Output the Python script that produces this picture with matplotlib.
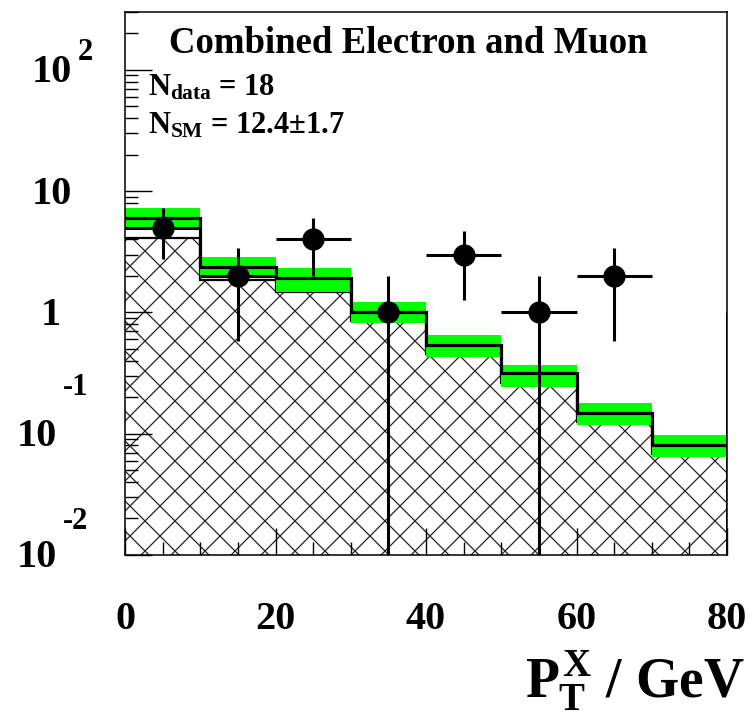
import numpy as np
import matplotlib
matplotlib.use("Agg")
import matplotlib.pyplot as plt
from matplotlib.collections import LineCollection
from matplotlib.ticker import LogLocator, MultipleLocator, NullFormatter

plt.rcParams['font.family'] = ['Liberation Serif', 'DejaVu Serif']
plt.rcParams['font.weight'] = 'bold'
plt.rcParams['mathtext.fontset'] = 'custom'
plt.rcParams['mathtext.rm'] = 'Liberation Serif:bold'
plt.rcParams['mathtext.it'] = 'Liberation Serif:bold'
plt.rcParams['mathtext.bf'] = 'Liberation Serif:bold'

# bins in P_T^X (GeV)
edges = [0, 10, 20, 30, 40, 50, 60, 70, 80]
# SM expectation, its error band and the hatched component
sm_val = [6.0, 2.37, 1.92, 1.01, 0.54, 0.316, 0.148, 0.081]
sm_hi = [7.26, 2.86, 2.32, 1.22, 0.65, 0.368, 0.179, 0.098]
sm_lo = [4.78, 1.92, 1.47, 0.82, 0.43, 0.243, 0.118, 0.064]
w_val = [4.1, 1.85, 1.47, 0.85, 0.45, 0.26, 0.125, 0.068]
# observed events per bin
data_n = [5, 2, 4, 1, 3, 1, 2, 0]

edges = np.array(edges, dtype=float)
centers = 0.5 * (edges[:-1] + edges[1:])
data_n = np.array(data_n, dtype=float)
has = data_n > 0

fig = plt.figure(figsize=(7.5, 7.26), dpi=100)
ax = fig.add_axes([0.16667, 0.23554, 0.80267, 0.74793])
ax.set_yscale('log')
ax.set_xlim(0, 80)
ax.set_ylim(0.01, 300)

# hatched component: white fill + coarse cross hatch clipped to it
wpatch = ax.stairs(w_val, edges, baseline=1e-4, fill=True, facecolor='white',
                   edgecolor='none', zorder=1)
step = 0.30
offs = np.arange(-10, 10, step)
segs = [[(o, -1), (o + 10, 9)] for o in offs] + [[(o, 9), (o + 10, -1)] for o in offs]
lc = LineCollection(segs, colors='#222222', linewidths=0.9,
                    transform=fig.dpi_scale_trans, zorder=1.2)
ax.add_collection(lc, autolim=False)
lc.set_clip_path(wpatch)
ax.stairs(w_val, edges, baseline=None, color='k', lw=1.6, zorder=1.5)

# SM error band and central value
ax.stairs(sm_hi, edges, baseline=sm_lo, fill=True, color='#00ff00', lw=0, zorder=2)
ax.stairs(sm_val, edges, baseline=None, color='k', lw=2.3, zorder=3)
ax.vlines(edges[-1], 0.01, 1, color='k', lw=2.0, zorder=3)

# data points
ax.errorbar(centers[has], data_n[has], xerr=5, yerr=np.sqrt(data_n[has]),
            fmt='o', color='k', ms=15, elinewidth=2.2, capsize=0, zorder=4)

# axes styling (ROOT like)
for s in ax.spines.values():
    s.set_linewidth(1.1)
ax.xaxis.set_major_locator(MultipleLocator(20))
ax.xaxis.set_minor_locator(MultipleLocator(5))
ax.yaxis.set_major_locator(LogLocator(base=10, numticks=10))
ax.yaxis.set_minor_locator(LogLocator(base=10, subs=np.arange(2, 10), numticks=20))
ax.yaxis.set_major_formatter(NullFormatter())
ax.yaxis.set_minor_formatter(NullFormatter())
ax.tick_params(which='both', direction='in', top=False, right=False, width=1.0)
ax.tick_params(which='major', length=19.4)
ax.tick_params(which='minor', length=9.4)
ax.tick_params(axis='x', which='major', labelsize=29, pad=33)

# y tick labels in ROOT style (10 with raised exponent)
ylabs = [(100, '10', '2', -53, 17), (10, '10', '', -53, 0), (1, '1', '', -64, 0),
         (0.1, '10', '-1', -68, 46), (0.01, '10', '-2', -68, 33)]
for v, base, ex, xr, lift in ylabs:
    ax.annotate(base, xy=(0, v), xycoords=('axes fraction', 'data'),
                xytext=(xr, -3), textcoords='offset pixels',
                ha='right', va='center', fontsize=29, fontweight='bold',
                annotation_clip=False)
    if ex:
        ax.annotate(ex, xy=(0, v), xycoords=('axes fraction', 'data'),
                    xytext=(xr + 6, lift), textcoords='offset pixels',
                    ha='left', va='center', fontsize=22, fontweight='bold',
                    annotation_clip=False)

# text
ax.text(0.47, 0.9245, 'Combined Electron and Muon', transform=ax.transAxes,
        ha='center', va='baseline', fontsize=26.5, fontweight='bold')
ax.text(0.038, 0.847, r'$N_{data}$ = 18', transform=ax.transAxes,
        ha='left', va='baseline', fontsize=22, fontweight='bold')
ax.text(0.038, 0.777, r'$N_{SM}$ = 12.4±1.7', transform=ax.transAxes,
        ha='left', va='baseline', fontsize=22, fontweight='bold')

fig.text(0.993, 0.0386, r'$P_T^X$ / GeV', ha='right', va='baseline',
         fontsize=40, fontweight='bold')

plt.savefig('out.png', dpi=100)
